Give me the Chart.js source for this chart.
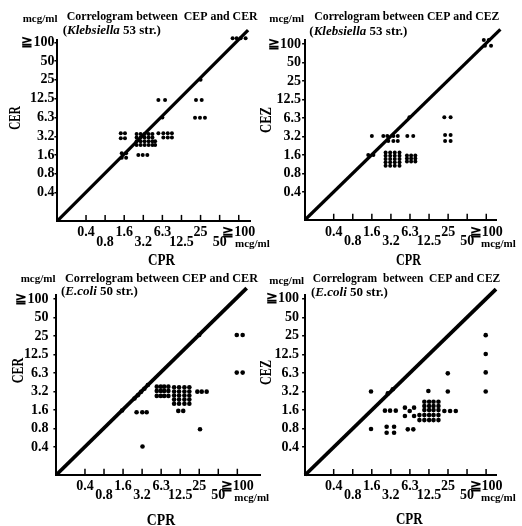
<!DOCTYPE html>
<html><head><meta charset="utf-8">
<script src="https://cdn.jsdelivr.net/npm/chart.js@4.4.1/dist/chart.umd.min.js"></script>
<style>
html,body{margin:0;padding:0;background:#fff;}
#wrap{position:relative;width:522px;height:526px;overflow:hidden;background:#fff;}
canvas{position:absolute;left:0;top:0;}
</style></head><body>
<div id="wrap">
<canvas id="c1" width="522" height="526"></canvas>
<canvas id="c2" width="522" height="526"></canvas>
<canvas id="c3" width="522" height="526"></canvas>
<canvas id="c4" width="522" height="526"></canvas>
</div>
<script>
// MIC steps (mcg/ml); axis unit = one twofold dilution step, 0.4 = step 0
const tickPositions = [0, 1, 2, 3, 4, 5, 6, 7, 8];
const tickLabels = ['0.4', '0.8', '1.6', '3.2', '6.3', '12.5', '25', '50', '≧100'];

// Klebsiella 53 str. : CPR (x) vs CER (y), one entry per strain dot
const kleCerX = [7.68,7.89,8.10,8.36, 6.0, 3.79,4.14, 5.76,6.06, 4.0, 5.71,5.97,6.23,
  1.82,2.04,1.82,2.04, 3.79,4.05,4.28,4.5,4.05,4.28,4.5, 1.87,2.1,1.87,2.1, 2.74,2.97,3.21,
  2.65,2.86,3.07,3.28,3.48, 2.65,2.86,3.07,3.28,3.48, 2.65,2.86,3.07,3.28,3.48,3.62,
  2.65,2.86,3.07,3.28,3.48,3.62];
const kleCerY = [8.21,8.21,8.21,8.21, 6.0, 4.93,4.93, 4.93,4.93, 4.0, 3.99,3.99,3.99,
  3.16,3.16,2.89,2.89, 3.16,3.16,3.16,3.16,2.93,2.93,2.93, 2.1,2.1,1.86,1.86, 2.01,2.01,2.01,
  3.12,3.12,3.12,3.12,3.12, 2.93,2.93,2.93,2.93,2.93, 2.73,2.73,2.73,2.73,2.73,2.73,
  2.54,2.54,2.54,2.54,2.54,2.54];
const kleCerDiagX = [-1.5, 8.49];
const kleCerDiagY = [-1.5, 8.65];

// Klebsiella 53 str. : CPR (x) vs CEZ (y)
const kleCezX = [7.87,8.13,7.93,8.25, 3.97, 5.8,6.13, 5.84,6.13,5.84,6.13,
  2.0,2.6,2.81,3.13,3.36,3.86,4.17, 2.86,3.13,3.36, 1.81,2.08,
  2.72,2.96,3.2,3.45, 2.72,2.96,3.2,3.45, 2.72,2.96,3.2,3.45, 2.72,2.96,3.2,3.45, 2.72,2.96,3.2,3.45,
  3.84,4.06,4.28, 3.84,4.06,4.28, 3.84,4.06,4.28];
const kleCezY = [8.22,8.22,7.91,7.91, 4.04, 4.04,4.04, 3.08,3.08,2.76,2.76,
  3.03,3.03,3.03,3.03,3.03,3.03,3.03, 2.76,2.76,2.76, 2.0,2.0,
  2.14,2.14,2.14,2.14, 1.96,1.96,1.96,1.96, 1.78,1.78,1.78,1.78, 1.61,1.61,1.61,1.61, 1.42,1.42,1.42,1.42,
  1.97,1.97,1.97, 1.81,1.81,1.81, 1.65,1.65,1.65];
const kleCezDiagX = [-1.5, 8.74];
const kleCezDiagY = [-1.5, 8.79];

// E.coli 50 str. : CPR (x) vs CER (y)
const colCerX = [7.97,8.28,7.97,8.28, 6.0, 1.95,2.6,2.78,2.95,3.12,3.3, 2.71,3.01,3.24, 3.02, 6.04,
  5.9,6.13,6.39, 4.9,5.16,
  3.77,3.98,4.16,4.38, 3.77,3.98,4.16,4.38, 3.77,3.98,4.16,4.38,
  4.68,4.94,5.22,5.48, 4.68,4.94,5.22,5.48, 4.68,4.94,5.22,5.48, 4.68,4.94,5.22,5.48, 4.68,4.94,5.22,5.48];
const colCerY = [6.05,6.05,4.02,4.02, 6.05, 1.97,2.62,2.8,2.98,3.15,3.35, 1.88,1.88,1.88, 0.03, 0.96,
  2.99,2.99,2.99, 1.95,1.95,
  3.26,3.26,3.26,3.26, 3.03,3.03,3.03,3.03, 2.76,2.76,2.76,2.76,
  3.23,3.23,3.23,3.23, 3.0,3.0,3.0,3.0, 2.78,2.78,2.78,2.78, 2.56,2.56,2.56,2.56, 2.34,2.34,2.34,2.34];
const colCerDiagX = [-1.5, 8.49];
const colCerDiagY = [-1.5, 8.59];

// E.coli 50 str. : CPR (x) vs CEZ (y)
const colCezX = [7.98,7.98,7.98,7.98, 5.99,5.99, 1.96, 2.84,3.1, 4.97, 5.81,6.11,6.41, 2.69,2.96,3.26,
  3.74,4.22,3.99,3.74,4.22, 1.96, 2.78,3.17,2.78,3.17, 3.89,4.18,
  4.76,5.01,5.24,5.5, 4.76,5.01,5.24,5.5, 4.76,5.01,5.24,5.5, 4.5,4.76,5.01,5.24,5.5, 4.5,4.76,5.01,5.24,5.5];
const colCezY = [6.04,5.02,4.03,3.0, 3.98,3.0, 3.0, 2.9,3.12, 3.03, 1.95,1.95,1.95, 1.97,1.97,1.97,
  2.13,2.13,1.95,1.68,1.68, 0.98, 1.1,1.1,0.78,0.78, 0.96,0.96,
  2.45,2.45,2.45,2.45, 2.22,2.22,2.22,2.22, 2.0,2.0,2.0,2.0, 1.73,1.73,1.73,1.73,1.73, 1.46,1.46,1.46,1.46,1.46];
const colCezDiagX = [-1.5, 8.52];
const colCezDiagY = [-1.5, 8.52];

const SERIF = "'Liberation Serif', 'Times New Roman', serif";

const panels = [
  { id:'c1', xs:kleCerX, ys:kleCerY, dx:kleCerDiagX, dy:kleCerDiagY, r:2.0, lw:3.2,
    xMin:-1.5, xMax:8.59, yMin:-1.5, yMax:8.12, left:57.4, right:250, top:40, bottom:220.9, xPad:7.1, yPad:0,
    title:{s:'Correlogram between  CEP and CER', x:66.7, y:19.5, w:191},
    sub:{parts:['(', 'Klebsiella', ' 53 str.)'], x:62.7, y:34},
    unitY:{x:22.7, y:21.5}, unitX:{x:235, y:247},
    yTitle:{s:'CER', x:15.3, y:118, w:23.5}, xTitle:{s:'CPR', x:161.5, y:264.5, w:27} },
  { id:'c2', xs:kleCezX, ys:kleCezY, dx:kleCezDiagX, dy:kleCezDiagY, r:2.0, lw:3.2,
    xMin:-1.5, xMax:8.51, yMin:-1.5, yMax:8.22, left:305.1, right:496, top:40, bottom:219.75, xPad:7.5, yPad:1,
    title:{s:'Correlogram between CEP and CEZ', x:314.3, y:19.5, w:185},
    sub:{parts:['(', 'Klebsiella', ' 53 str.)'], x:309.3, y:35},
    unitY:{x:269.3, y:21.7}, unitX:{x:481, y:246.5},
    yTitle:{s:'CEZ', x:266.5, y:120, w:26}, xTitle:{s:'CPR', x:408.5, y:264.5, w:25} },
  { id:'c3', xs:colCerX, ys:colCerY, dx:colCerDiagX, dy:colCerDiagY, r:2.3, lw:3.8,
    xMin:-1.5, xMax:9.19, yMin:-1.5, yMax:8.23, left:56.4, right:260, top:294.7, bottom:474.75, xPad:6.8, yPad:5,
    title:{s:'Correlogram between CEP and CER', x:65, y:282.3, w:193},
    sub:{parts:['(', 'E.coli', ' 50 str.)'], x:61, y:294.7},
    unitY:{x:20.7, y:282.3}, unitX:{x:234.3, y:500.5},
    yTitle:{s:'CER', x:19, y:370.5, w:25.5}, xTitle:{s:'CPR', x:161, y:525, w:28.3} },
  { id:'c4', xs:colCezX, ys:colCezY, dx:colCezDiagX, dy:colCezDiagY, r:2.3, lw:3.8,
    xMin:-1.5, xMax:8.52, yMin:-1.5, yMax:8.22, left:305.1, right:496, top:294.7, bottom:475, xPad:6.5, yPad:3,
    title:{s:'Correlogram  between  CEP and CEZ', x:312.7, y:282.3, w:187.6},
    sub:{parts:['(', 'E.coli', ' 50 str.)'], x:311, y:296.3},
    unitY:{x:269.3, y:283.7}, unitX:{x:481, y:501},
    yTitle:{s:'CEZ', x:266.8, y:372.5, w:25}, xTitle:{s:'CPR', x:409.3, y:523.7, w:26.7} }
];

const AXW = 50, AXH = 50;
const tickFont = { family: SERIF, size: 14, weight: 'bold', lineHeight: 0.68 };

function drawText(ctx, s, x, y, font, align, baseline, maxW, rot) {
  ctx.save();
  ctx.translate(x, y);
  if (rot) ctx.rotate(rot);
  ctx.font = font;
  ctx.fillStyle = '#000';
  ctx.textAlign = align || 'left';
  ctx.textBaseline = baseline || 'alphabetic';
  if (maxW) ctx.fillText(s, 0, 0, maxW); else ctx.fillText(s, 0, 0);
  ctx.restore();
}

function makePlugin(p) {
  return {
    id: 'panelDeco_' + p.id,
    afterDraw(chart) {
      const ctx = chart.ctx;
      const xs = chart.scales.x;
      const area = chart.chartArea;
      ctx.save();
      ctx.strokeStyle = '#000';
      ctx.lineWidth = 1.5;
      tickPositions.forEach(v => {
        const px = xs.getPixelForValue(v);
        ctx.beginPath();
        ctx.moveTo(px, area.bottom);
        ctx.lineTo(px, area.bottom - 6);
        ctx.stroke();
      });
      ctx.restore();
      // titles
      drawText(ctx, p.title.s, p.title.x, p.title.y, 'bold 12.5px ' + SERIF, 'left', 'alphabetic', p.title.w);
      let x = p.sub.x;
      p.sub.parts.forEach((s, i) => {
        const f = (i === 1 ? 'italic bold 13px ' : 'bold 13px ') + SERIF;
        drawText(ctx, s, x, p.sub.y, f);
        ctx.font = f;
        x += ctx.measureText(s).width;
      });
      drawText(ctx, 'mcg/ml', p.unitY.x, p.unitY.y, 'bold 11px ' + SERIF);
      drawText(ctx, 'mcg/ml', p.unitX.x, p.unitX.y, 'bold 11px ' + SERIF);
      drawText(ctx, p.yTitle.s, p.yTitle.x, p.yTitle.y, 'bold 17px ' + SERIF, 'center', 'middle', p.yTitle.w, -Math.PI / 2);
      drawText(ctx, p.xTitle.s, p.xTitle.x, p.xTitle.y, 'bold 17px ' + SERIF, 'center', 'alphabetic', p.xTitle.w);
    }
  };
}

panels.forEach(p => {
  const pts = p.xs.map((v, i) => ({ x: v, y: p.ys[i] }));
  const diag = p.dx.map((v, i) => ({ x: v, y: p.dy[i] }));
  new Chart(document.getElementById(p.id), {
    type: 'scatter',
    data: {
      datasets: [
        { type: 'line', data: diag, borderColor: '#000', borderWidth: p.lw, pointRadius: 0, fill: false, clip: false, order: 2 },
        { data: pts, backgroundColor: '#000', borderWidth: 0, pointRadius: p.r, pointHoverRadius: p.r, clip: false, order: 1 }
      ]
    },
    options: {
      responsive: false,
      animation: false,
      devicePixelRatio: 1,
      events: [],
      layout: { padding: { left: p.left - AXW, right: 522 - p.right, top: p.top, bottom: 526 - p.bottom - AXH } },
      plugins: { legend: { display: false }, tooltip: { enabled: false }, title: { display: false } },
      scales: {
        x: {
          type: 'linear', position: 'bottom', min: p.xMin, max: p.xMax,
          afterFit(s) { s.height = AXH; },
          afterBuildTicks(s) { s.ticks = tickPositions.map(v => ({ value: v })); },
          ticks: {
            autoSkip: false, maxRotation: 0, minRotation: 0, padding: p.xPad, color: '#000', font: tickFont,
            callback(v, i) { return i % 2 === 0 ? [tickLabels[i]] : ['', tickLabels[i]]; }
          },
          grid: { display: false, drawTicks: false, tickLength: 0 },
          border: { display: true, color: '#000', width: 2 }
        },
        y: {
          type: 'linear', position: 'left', min: p.yMin, max: p.yMax,
          afterFit(s) { s.width = AXW; },
          afterBuildTicks(s) { s.ticks = tickPositions.map(v => ({ value: v })); },
          ticks: {
            autoSkip: false, padding: p.yPad, color: '#000', font: tickFont,
            callback(v, i) { return tickLabels[i]; }
          },
          grid: { display: true, drawOnChartArea: false, drawTicks: true, tickLength: 3, color: '#000', lineWidth: 1.5 },
          border: { display: true, color: '#000', width: 2 }
        }
      }
    },
    plugins: [makePlugin(p)]
  });
});
</script>
</body></html>
